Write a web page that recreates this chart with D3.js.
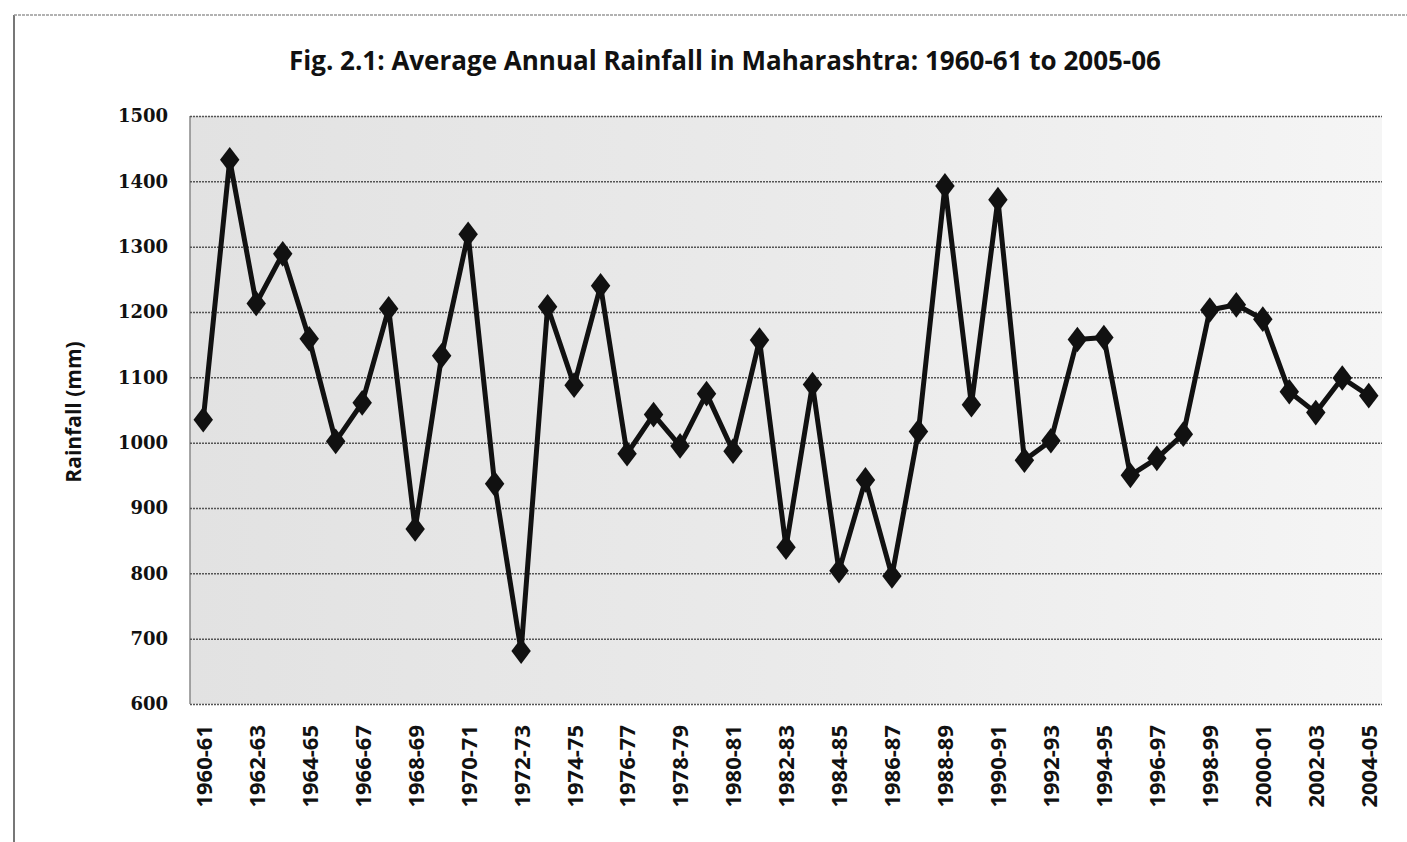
<!DOCTYPE html>
<html>
<head>
<meta charset="utf-8">
<script src="https://cdn.jsdelivr.net/npm/d3@7"></script>
<style>
  body { margin: 0; background: #fff; }
  svg { display: block; }
</style>
</head>
<body>
<svg id="chart" width="1407" height="842"></svg>
<script>
// rainfall data
var years = [
  '1960-61', '1961-62', '1962-63', '1963-64', '1964-65', '1965-66', '1966-67', '1967-68',
  '1968-69', '1969-70', '1970-71', '1971-72', '1972-73', '1973-74', '1974-75', '1975-76',
  '1976-77', '1977-78', '1978-79', '1979-80', '1980-81', '1981-82', '1982-83', '1983-84',
  '1984-85', '1985-86', '1986-87', '1987-88', '1988-89', '1989-90', '1990-91', '1991-92',
  '1992-93', '1993-94', '1994-95', '1995-96', '1996-97', '1997-98', '1998-99', '1999-00',
  '2000-01', '2001-02', '2002-03', '2003-04', '2004-05'
];
var rainfall = [
  1035, 1433, 1213, 1289, 1159, 1002, 1061, 1205,
  868, 1133, 1319, 937, 681, 1208, 1088, 1240,
  983, 1043, 995, 1075, 987, 1157, 840, 1089,
  804, 943, 796, 1017, 1393, 1058, 1372, 973,
  1003, 1158, 1161, 950, 976, 1013, 1203, 1211,
  1189, 1078, 1046, 1099, 1072
];
var xTickLabels = [
  '1960-61', '1962-63', '1964-65', '1966-67', '1968-69', '1970-71', '1972-73', '1974-75',
  '1976-77', '1978-79', '1980-81', '1982-83', '1984-85', '1986-87', '1988-89', '1990-91',
  '1992-93', '1994-95', '1996-97', '1998-99', '2000-01', '2002-03', '2004-05'
];
var yTicks = [600, 700, 800, 900, 1000, 1100, 1200, 1300, 1400, 1500];

var title = 'Fig. 2.1: Average Annual Rainfall in Maharashtra: 1960-61 to 2005-06';

var plot = { left: 190, right: 1382, top: 116, bottom: 704 };

var svg = d3.select('#chart');

// page frame (scanned border)
svg.append('line')
    .attr('x1', 14).attr('y1', 15).attr('x2', 14).attr('y2', 842)
    .attr('stroke', '#777').attr('stroke-width', 2);
svg.append('line')
    .attr('x1', 14).attr('y1', 15).attr('x2', 1407).attr('y2', 15)
    .attr('stroke', '#999').attr('stroke-width', 1.5)
    .attr('stroke-dasharray', '3,1');

var defs = svg.append('defs');
var grad = defs.append('linearGradient').attr('id', 'bg')
    .attr('x1', '0%').attr('x2', '100%').attr('y1', '0%').attr('y2', '0%');
grad.append('stop').attr('offset', '0%').attr('stop-color', '#e2e2e2');
grad.append('stop').attr('offset', '55%').attr('stop-color', '#ebebeb');
grad.append('stop').attr('offset', '100%').attr('stop-color', '#f5f5f5');

var x = d3.scalePoint()
    .domain(years)
    .range([plot.left, plot.right])
    .padding(0.5);

var y = d3.scaleLinear()
    .domain([600, 1500])
    .range([plot.bottom, plot.top]);

// plot area
svg.append('rect')
    .attr('x', plot.left).attr('y', plot.top)
    .attr('width', plot.right - plot.left)
    .attr('height', plot.bottom - plot.top)
    .attr('fill', 'url(#bg)');

svg.append('line')
    .attr('x1', plot.left).attr('x2', plot.left)
    .attr('y1', plot.top).attr('y2', plot.bottom)
    .attr('stroke', '#888').attr('stroke-width', 1.5);

// gridlines + y labels
var yAxis = d3.axisLeft(y)
    .tickValues(yTicks)
    .tickFormat(d3.format('d'))
    .tickSize(-(plot.right - plot.left))
    .tickPadding(22);

var gy = svg.append('g')
    .attr('transform', 'translate(' + plot.left + ',0)')
    .call(yAxis);
gy.select('.domain').remove();
gy.selectAll('.tick line')
    .attr('stroke', '#555')
    .attr('stroke-width', 1.5)
    .attr('stroke-dasharray', '2,1');
gy.selectAll('.tick text')
    .attr('fill', '#111')
    .style('font-family', '"DejaVu Serif", serif')
    .style('font-weight', 'bold')
    .style('font-size', '18px');

// x labels, every other year
var xAxis = d3.axisBottom(x)
    .tickValues(xTickLabels)
    .tickSize(0)
    .tickPadding(0);

var gx = svg.append('g')
    .attr('transform', 'translate(0,' + plot.bottom + ')')
    .call(xAxis);
gx.select('.domain').remove();
gx.selectAll('.tick text')
    .attr('fill', '#111')
    .attr('transform', 'rotate(-90)')
    .attr('text-anchor', 'end')
    .attr('x', -21)
    .attr('y', 0)
    .attr('dy', '0.36em')
    .style('font-family', '"Open Sans", sans-serif')
    .style('font-weight', 'bold')
    .style('font-size', '22px');

// axis title
svg.append('text')
    .attr('transform', 'translate(74,' + ((plot.top + plot.bottom) / 2 + 2) + ') rotate(-90)')
    .attr('text-anchor', 'middle')
    .attr('dy', '0.35em')
    .attr('fill', '#111')
    .style('font-family', '"Open Sans", sans-serif')
    .style('font-weight', 'bold')
    .style('font-size', '21px')
    .text('Rainfall (mm)');

// chart title
svg.append('text')
    .attr('x', 725)
    .attr('y', 70)
    .attr('text-anchor', 'middle')
    .attr('fill', '#111')
    .style('font-family', '"Open Sans", sans-serif')
    .style('font-weight', 'bold')
    .style('font-size', '26px')
    .text(title);

// series
var line = d3.line()
    .x(function(d, i) { return x(years[i]); })
    .y(function(d) { return y(d); });

svg.append('path')
    .datum(rainfall)
    .attr('d', line)
    .attr('fill', 'none')
    .attr('stroke', '#111')
    .attr('stroke-width', 5)
    .attr('stroke-linejoin', 'round');

svg.selectAll('.marker')
    .data(rainfall)
  .enter().append('path')
    .attr('class', 'marker')
    .attr('d', d3.symbol().type(d3.symbolDiamond).size(210))
    .attr('transform', function(d, i) {
      return 'translate(' + x(years[i]) + ',' + y(d) + ') scale(1.25,0.95)';
    })
    .attr('fill', '#111');
</script>
</body>
</html>
